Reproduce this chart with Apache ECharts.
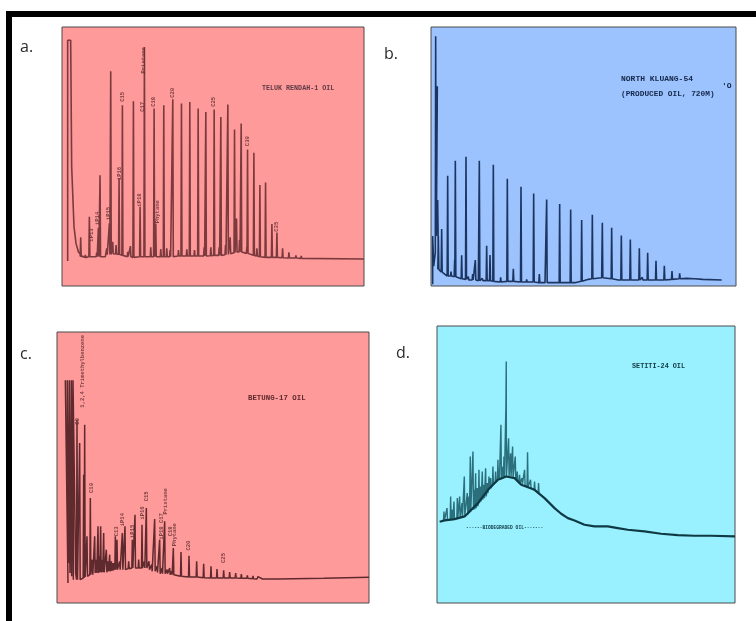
<!DOCTYPE html>
<html>
<head>
<meta charset="utf-8">
<script src="https://cdn.jsdelivr.net/npm/echarts@6/dist/echarts.min.js"></script>
<style>html,body{margin:0;padding:0;background:#fff}#c{width:756px;height:621px;filter:blur(0.45px)}</style>
</head>
<body>
<div id="c"></div>
<script>
// Rows are [retention, peak response, foot response]; units are arbitrary detector readings.
const aSolvent = [[17,75],[17,738],[26,738],[29,358],[36,178],[42,128],[49,103],[59,90],[74,85]];
const aBaseline = [[130,88],[150,95],[170,100],[200,92],[300,86],[450,88],[500,95],[525,105],[560,98],[600,85],[700,82],[905,81]];
const aPeaks = [[56,146,90],[82,208,88],[109,175,88],[114,333,88],[142,188,95],[146,645,95],[171,323,95],[181,543,92],[214,555,86],[234,238,88],[247,718,88],[276,533,88],[281,188,88],[305,543,88],[332,561,88],[358,548,90],[383,553,90],[408,533,90],[431,523,90],[456,530,92],[476,508,92],[497,545,95],[517,470,100],[537,488,102],[556,410,98],[575,400,92],[593,303,88],[610,311,86],[629,186,86],[644,161,86],[661,113,85],[680,101,84],[701,92,84],[717,90,83],
[70,93,86],[104,100,88],[134,113,94],[152,133,97],[162,123,96],[197,103,88],[205,120,88],[266,116,88],[296,111,88],[314,113,88],[324,108,88],[349,108,90],[374,110,90],[397,108,90],[426,116,90],[446,116,91],[471,116,92],[490,123,94],[504,146,97],[523,203,102],[532,138,102],[554,118,98],[584,113,90]];
const aLabels = [['iP13',89,153],['iP14',106,203],['iP15',139,218],['iP16',172,338],['C15',181,568],['iP18',234,258],['C17',242,538],['Pristane',246,678],['C18',276,553],['Phytane',286,223],['C20',332,580],['C25',454,553],['C30',556,435],['C35',644,178]];

const bSolvent = [[5,5],[5,150],[8,60],[13,100],[14,750],[18,750],[15,300],[19,600],[16,150],[20,258],[22,100]];
const bBaseline = [[32,43],[52,30],[92,20],[142,16],[342,10],[432,10],[472,20],[512,25],[562,18],[692,18],[772,23],[872,18]];
const bPeaks = [[22,150,50],[32,171,42],[50,331,30],[60,43,30],[73,376,28],[71,78,28],[92,92,22],[105,388,20],[112,28,18],[125,36,18],[133,78,18],[145,376,16],[154,23,16],[167,121,16],[177,93,16],[187,364,14],[209,26,12],[229,322,14],[247,52,14],[270,298,12],[287,20,12],[308,278,12],[325,36,10],[347,260,10],[386,246,10],[419,230,10],[452,198,14],[484,214,22],[514,190,25],[542,175,22],[571,152,18],[598,140,18],[625,113,18],[634,26,18],[650,100,18],[675,76,18],[700,61,18],[723,45,20],[746,38,22],[768,29,23],[792,23,22],[817,21,20]];
const bLabels = [];

const cSolvent = [[33,60],[25,668],[34,120],[31,668],[39,90],[37,668],[44,80],[43,668],[49,70],[48,668],[56,90]];
const cBaseline = [[95,75],[120,85],[160,95],[220,105],[280,95],[340,85],[400,78],[500,75],[600,72],[800,74],[936,77]];
const cPeaks = [[60,550,70],[68,480,70],[80,385,75],[83,535,78],[90,200,80],[100,315,85],[113,200,90],[123,230,90],[131,230,92],[140,210,92],[148,160,92],[158,145,95],[168,120,98],[175,200,100],[180,190,100],[196,210,100],[204,230,100],[226,190,105],[234,265,105],[255,235,105],[268,285,105],[284,115,95],[293,252,95],[308,190,88],[323,245,88],[338,105,85],[349,165,85],[372,153,80],[396,142,78],[419,125,78],[440,118,76],[462,110,75],[480,102,75],[500,98,75],[518,93,75],[536,90,75],[553,87,74],[571,83,74],[588,81,73],[603,79,73],[618,77,72],[633,75,72],[648,74,72],[665,74,72],
[106,130,85],[118,130,90],[127,140,92],[136,130,92],[153,125,95],[163,125,96],[172,120,98],[188,125,100],[215,125,103],[245,130,105],[262,125,105],[276,125,100],[300,110,92],[315,105,88],[330,100,88],[344,95,85]];
const cLabels = [['1,2,4 Trimethylbenzene',78,695],['C9',63,545],['C10',103,345],['C13',180,215],['iP14',198,250],['iP15',228,215],['iP16',256,270],['C15',268,320],['iP18 C17',313,230],['Pristane',325,305],['C18',340,215],['Phytane',353,205],['C20',396,172],['C25',500,135]];

const dEnvelope = [[8,244],[23,248],[53,252],[83,260],[123,300],[153,340],[183,370],[208,380],[233,375],[253,355],[293,340],[323,315],[353,285],[373,268],[393,255],[413,248],[443,235],[473,230],[513,230],[516,236],[519,230],[543,225],[573,220],[623,215],[626,220],[629,214],[673,208],[723,204],[773,202],[823,202],[895,200]];
const dPeaks = [[21,275,248],[41,320,250],[51,305,252],[61,315,254],[68,320,256],[82,380,262],[91,330,265],[100,440,275],[108,455,280],[116,390,285],[126,400,300],[136,395,310],[146,405,320],[156,380,340],[168,410,355],[183,430,370],[192,535,372],[201,440,376],[207,595,380],[208,725,380],[215,495,380],[221,450,380],[227,470,378],[235,440,375],[248,385,360],[263,400,355],[272,453,348],[281,370,345],[293,365,340],[305,360,330],
[30,285,250],[46,280,252],[75,300,258],[96,320,270],[112,340,282],[121,345,290],[131,350,305],[141,355,315],[151,360,330],[161,375,345],[176,395,362],[186,400,370],[198,410,375],[241,395,368],[255,375,358],[287,350,342],[299,345,335]];
const dLabels = [];

const panelTitles = ['TELUK RENDAH-1 OIL','NORTH KLUANG-54','(PRODUCED OIL, 720M)','BETUNG-17 OIL','SETITI-24 OIL','------BIODEGRADED OIL-------'];
const panelLetters = ['a.','b.','c.','d.'];

function trace(solvent, baseline, peaks, w) {
  const pts = baseline.map(p => [p[0], p[1]]);
  peaks.forEach(p => { pts.push([p[0]-w, p[2]], [p[0], p[1]], [p[0]+w, p[2]]); });
  pts.sort((u, v) => u[0] - v[0]);
  return solvent.concat(pts);
}

const panels = [
  {l:62,t:27,w:302,h:259,xm:905,ym:778,bg:'#ff9a9a',line:'#7c3a3e',lw:1.6,data:trace(aSolvent,aBaseline,aPeaks,1.5),labels:aLabels},
  {l:431,t:27,w:305,h:259,xm:915,ym:778,bg:'#9dc3ff',line:'#1c3560',lw:1.6,data:trace(bSolvent,bBaseline,bPeaks,1.5),labels:bLabels},
  {l:57,t:332,w:312,h:271,xm:936,ym:813,bg:'#ff9a9a',line:'#5e2a2e',lw:1.5,data:trace(cSolvent,cBaseline,cPeaks,1.5),labels:cLabels},
  {l:437,t:326,w:298,h:277,xm:895,ym:832,bg:'#99f1ff',line:'#2c6f7c',lw:1.4,data:trace([],[],dPeaks,1.5),labels:dLabels}
];

const grid=[],xAxis=[],yAxis=[],series=[];
panels.forEach((p,i)=>{
  grid.push({left:p.l,top:p.t,width:p.w,height:p.h,show:true,backgroundColor:p.bg,borderColor:'#4a4a4a',borderWidth:1});
  xAxis.push({type:'value',gridIndex:i,min:0,max:p.xm,show:false});
  yAxis.push({type:'value',gridIndex:i,min:0,max:p.ym,show:false});
  series.push({type:'line',xAxisIndex:i,yAxisIndex:i,data:p.data,showSymbol:false,symbol:'none',lineStyle:{color:p.line,width:p.lw},silent:true,z:3});
  if(p.labels.length) series.push({type:'scatter',xAxisIndex:i,yAxisIndex:i,symbolSize:0,silent:true,z:4,
    data:p.labels.map(r=>({value:[r[1],r[2]],name:r[0]})),
    label:{show:true,position:'inside',rotate:90,formatter:'{b}',fontSize:5.5,fontFamily:'Liberation Mono',fontWeight:'bold',color:'#5a2a2e'}});
});
series.push({type:'line',xAxisIndex:3,yAxisIndex:3,data:dEnvelope,showSymbol:false,symbol:'none',lineStyle:{color:'#0f3a44',width:2.2},silent:true,z:5});

const letter=(s,x,y)=>({type:'text',left:x,top:y,z:20,style:{text:s,font:'16px "Open Sans"',fill:'#2a2a2a'}});
const cap=(s,x,y,size,fill)=>({type:'text',left:x,top:y,z:20,style:{text:s,font:'bold '+size+'px "Liberation Mono"',fill:fill}});
const graphic=[
  {type:'rect',shape:{x:6,y:11,width:750,height:6},style:{fill:'#000'},z:20},
  {type:'rect',shape:{x:6,y:11,width:6,height:610},style:{fill:'#000'},z:20},
  letter(panelLetters[0],20,39),letter(panelLetters[1],384,46),letter(panelLetters[2],20,346),letter(panelLetters[3],396,345),
  cap(panelTitles[0],262,85,6.7,'#5e3a44'),
  cap(panelTitles[1],621,75,8,'#14284a'),
  cap(panelTitles[2],621,90,7.8,'#14284a'),
  cap("'O",722,82,8,'#14284a'),
  cap(panelTitles[3],248,395,7.4,'#5e2a2e'),
  cap(panelTitles[4],632,363,6.8,'#103a44'),
  cap(panelTitles[5],466,525,4.6,'#103a44')
];

const chart=echarts.init(document.getElementById('c'),null,{renderer:'canvas'});
chart.setOption({animation:false,grid,xAxis,yAxis,series,graphic});
</script>
</body>
</html>
